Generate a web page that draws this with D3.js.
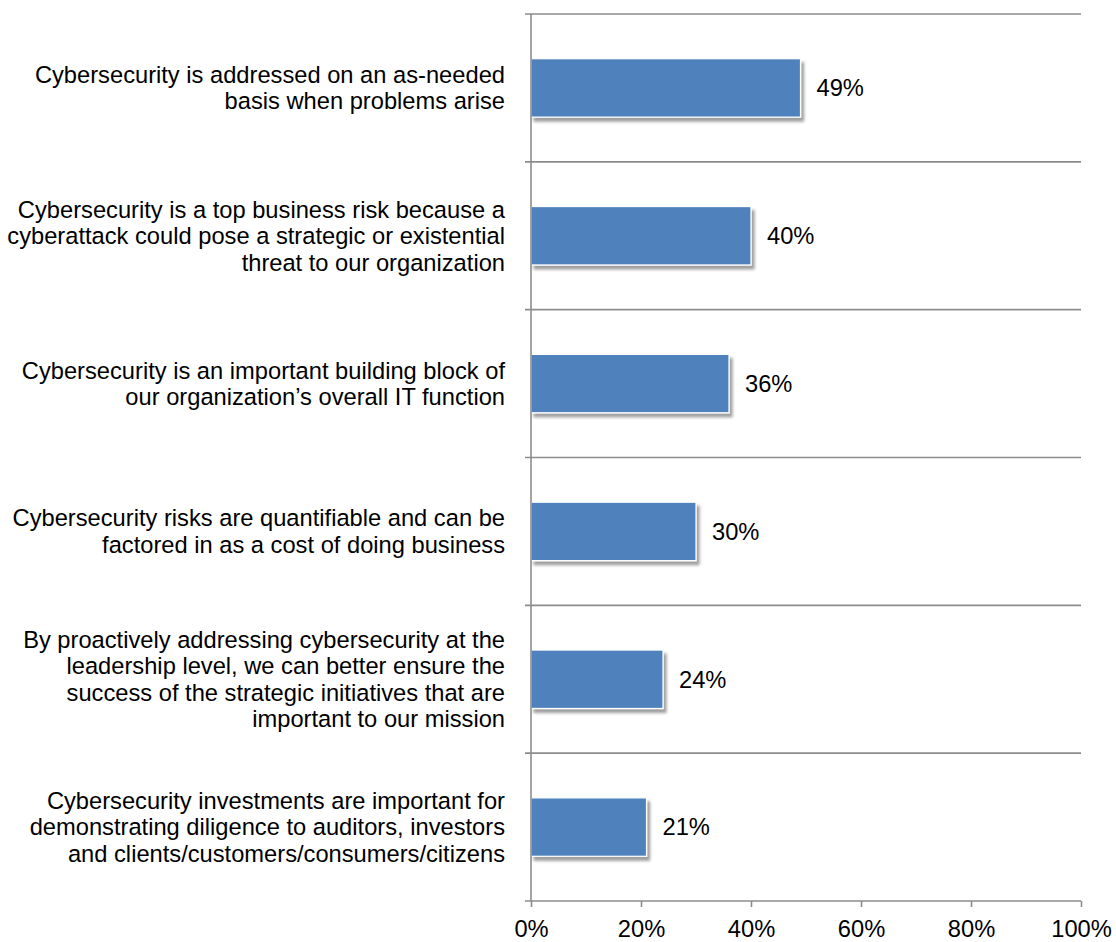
<!DOCTYPE html>
<html>
<head>
<meta charset="utf-8">
<script src="https://cdn.jsdelivr.net/npm/d3@7"></script>
<style>
  html, body { margin: 0; padding: 0; background: #ffffff; }
  svg { display: block; }
  text { font-family: Arial, "Liberation Sans", sans-serif; fill: #000; }
</style>
</head>
<body>
<svg id="chart" width="1116" height="942"></svg>
<script>
// Survey statements (each entry is the list of wrapped lines shown on the axis)
const categories = [
  ["Cybersecurity is addressed on an as-needed", "basis when problems arise"],
  ["Cybersecurity is a top business risk because a", "cyberattack could pose a strategic or existential", "threat to our organization"],
  ["Cybersecurity is an important building block of", "our organization\u2019s overall IT function"],
  ["Cybersecurity risks are quantifiable and can be", "factored in as a cost of doing business"],
  ["By proactively addressing cybersecurity at the", "leadership level, we can better ensure the", "success of the strategic initiatives that are", "important to our mission"],
  ["Cybersecurity investments are important for", "demonstrating diligence to auditors, investors", "and clients/customers/consumers/citizens"]
];
const values = [0.49, 0.40, 0.36, 0.30, 0.24, 0.21];
const tickValues = [0, 0.2, 0.4, 0.6, 0.8, 1.0];

const svg = d3.select("#chart");
const plotLeft = 531, plotRight = 1081, plotTop = 14, plotBottom = 901;
const fontSize = 23.7;

const x = d3.scaleLinear().domain([0, 1]).range([plotLeft, plotRight]);
const y = d3.scaleBand().domain(d3.range(categories.length)).range([plotTop, plotBottom]).paddingInner(0).paddingOuter(0);
const barH = y.bandwidth() * 0.395;

const defs = svg.append("defs");
const f = defs.append("filter").attr("id", "shadow").attr("x", "-10%").attr("y", "-30%").attr("width", "130%").attr("height", "180%");
f.append("feGaussianBlur").attr("in", "SourceAlpha").attr("stdDeviation", 1.6).attr("result", "b");
f.append("feOffset").attr("in", "b").attr("dx", 3).attr("dy", 4).attr("result", "o");
f.append("feComponentTransfer").attr("in", "o").attr("result", "s")
  .append("feFuncA").attr("type", "linear").attr("slope", 0.38);
const m = f.append("feMerge");
m.append("feMergeNode").attr("in", "s");
m.append("feMergeNode").attr("in", "SourceGraphic");

const gridColor = "#8c8c8c";

// horizontal separators between categories
svg.append("g").selectAll("line")
  .data(d3.range(categories.length))
  .join("line")
  .attr("x1", plotLeft - 6).attr("x2", plotRight)
  .attr("y1", d => y(d)).attr("y2", d => y(d))
  .attr("stroke", gridColor).attr("stroke-width", 1.6);

// bars
svg.append("g").selectAll("rect")
  .data(values)
  .join("rect")
  .attr("x", x(0))
  .attr("y", (d, i) => y(i) + (y.bandwidth() - barH) / 2)
  .attr("width", d => x(d) - x(0))
  .attr("height", barH)
  .attr("fill", "#4f81bd")
  .attr("stroke", "#ffffff")
  .attr("stroke-width", 1.2)
  .attr("filter", "url(#shadow)");

// value labels
svg.append("g").selectAll("text")
  .data(values)
  .join("text")
  .attr("x", d => x(d) + 16)
  .attr("y", (d, i) => y(i) + y.bandwidth() / 2)
  .attr("dy", "0.35em")
  .attr("font-size", fontSize)
  .text(d => Math.round(d * 100) + "%");

// category labels
const lh = 26.5;
const labels = svg.append("g").selectAll("text")
  .data(categories)
  .join("text")
  .attr("text-anchor", "end")
  .attr("font-size", fontSize)
  .attr("y", (d, i) => y(i) + y.bandwidth() / 2 - (d.length - 1) * lh / 2);
labels.selectAll("tspan")
  .data(d => d)
  .join("tspan")
  .attr("x", 505)
  .attr("dy", (d, j) => j === 0 ? "0.35em" : lh)
  .text(d => d);

// value axis
const axis = d3.axisBottom(x).tickValues(tickValues).tickFormat(d3.format(".0%")).tickSize(6).tickSizeOuter(0);
const ax = svg.append("g").attr("transform", `translate(0,${plotBottom})`).call(axis);
ax.select(".domain").attr("stroke", gridColor).attr("stroke-width", 1.6).attr("d", `M${plotLeft - 6},0H${plotRight}`);
ax.selectAll(".tick line").attr("stroke", gridColor).attr("stroke-width", 1.6);
ax.selectAll(".tick text").attr("font-size", fontSize).attr("font-family", "Arial, 'Liberation Sans', sans-serif").attr("fill", "#000").attr("dy", "1.12em");

// category axis line
svg.append("line")
  .attr("x1", plotLeft).attr("x2", plotLeft)
  .attr("y1", plotTop).attr("y2", plotBottom)
  .attr("stroke", gridColor).attr("stroke-width", 1.6);
</script>
</body>
</html>
